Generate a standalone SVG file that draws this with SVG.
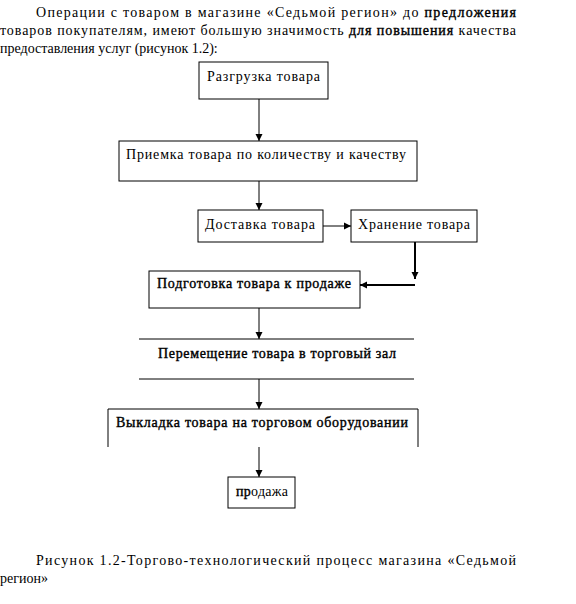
<svg xmlns="http://www.w3.org/2000/svg" width="576" height="604" viewBox="0 0 576 604">
<style>
  text { font-family: 'Liberation Serif', 'Times New Roman', 'DejaVu Serif', serif; font-size: 14px; fill: #000; }
  .box { fill: #fff; stroke: #000; stroke-width: 1; }
  .ln { fill: none; stroke: #000; stroke-width: 1; }
  .thick { fill: none; stroke: #000; stroke-width: 2; }
  .b { stroke: #000; stroke-width: 0.4; }
</style>
<defs>
  <marker id="ah" markerWidth="8" markerHeight="8" refX="7" refY="4" orient="auto" markerUnits="userSpaceOnUse">
    <path d="M0,0.5 L7,4 L0,7.5 z" fill="#000"/>
  </marker>
</defs>
<rect x="0" y="0" width="576" height="604" fill="#fff"/>

<g id="intro">
  <text x="36" y="17" textLength="480" lengthAdjust="spacing">Операции с товаром в магазине «Седьмой регион» до <tspan class="b">предложения</tspan></text>
  <text x="0" y="35" textLength="516" lengthAdjust="spacing">товаров покупателям, имеют большую значимость <tspan class="b">для повышения</tspan> качества</text>
  <text x="0" y="53">предоставления услуг (рисунок 1.2):</text>
</g>

<g id="connectors">
  <path class="ln" d="M259,99 V141" marker-end="url(#ah)"/>
  <path class="ln" d="M259,181 V210" marker-end="url(#ah)"/>
  <path class="ln" d="M323,226 H351" marker-end="url(#ah)"/>
  <path class="thick" d="M415,242 V279" marker-end="url(#ah)"/>
  <path class="thick" d="M415,285 H360" marker-end="url(#ah)"/>
  <path class="ln" d="M259,308 V339" marker-end="url(#ah)"/>
  <path class="ln" d="M259,379 V409" marker-end="url(#ah)"/>
  <path class="ln" d="M259,447 V477" marker-end="url(#ah)"/>
</g>

<g id="n1">
  <rect class="box" x="199" y="62" width="129" height="37"/>
  <text x="207" y="81" textLength="113" lengthAdjust="spacing">Разгрузка товара</text>
</g>
<g id="n2">
  <rect class="box" x="119" y="141" width="298" height="40"/>
  <text x="126" y="159" textLength="280" lengthAdjust="spacing">Приемка товара по количеству и качеству</text>
</g>
<g id="n3">
  <rect class="box" x="198" y="210" width="125" height="32"/>
  <text x="205" y="229" textLength="110" lengthAdjust="spacing">Доставка товара</text>
</g>
<g id="n4">
  <rect class="box" x="351" y="210" width="126" height="32"/>
  <text x="358" y="229" textLength="112" lengthAdjust="spacing">Хранение товара</text>
</g>
<g id="n5">
  <rect class="box" x="149" y="271" width="211" height="37"/>
  <text x="157" y="288" textLength="194" lengthAdjust="spacing" class="b">Подготовка товара к продаже</text>
</g>
<g id="n6">
  <line class="ln" x1="139" y1="339" x2="414" y2="339"/>
  <line class="ln" x1="139" y1="379" x2="414" y2="379"/>
  <text x="158" y="358" textLength="238" lengthAdjust="spacing" class="b">Перемещение товара в торговый зал</text>
</g>
<g id="n7">
  <path class="ln" d="M108,447 V409 H418 V447"/>
  <text x="116" y="427" textLength="292" lengthAdjust="spacing" class="b">Выкладка товара на торговом оборудовании</text>
</g>
<g id="n8">
  <rect class="box" x="228" y="477" width="67" height="31"/>
  <text x="236" y="496" textLength="52" lengthAdjust="spacing"><tspan class="b">пр</tspan>одажа</text>
</g>

<g id="caption">
  <text x="36" y="565" textLength="480" lengthAdjust="spacing">Рисунок 1.2-Торгово-технологический процесс магазина «Седьмой</text>
  <text x="0" y="583">регион»</text>
</g>
</svg>
